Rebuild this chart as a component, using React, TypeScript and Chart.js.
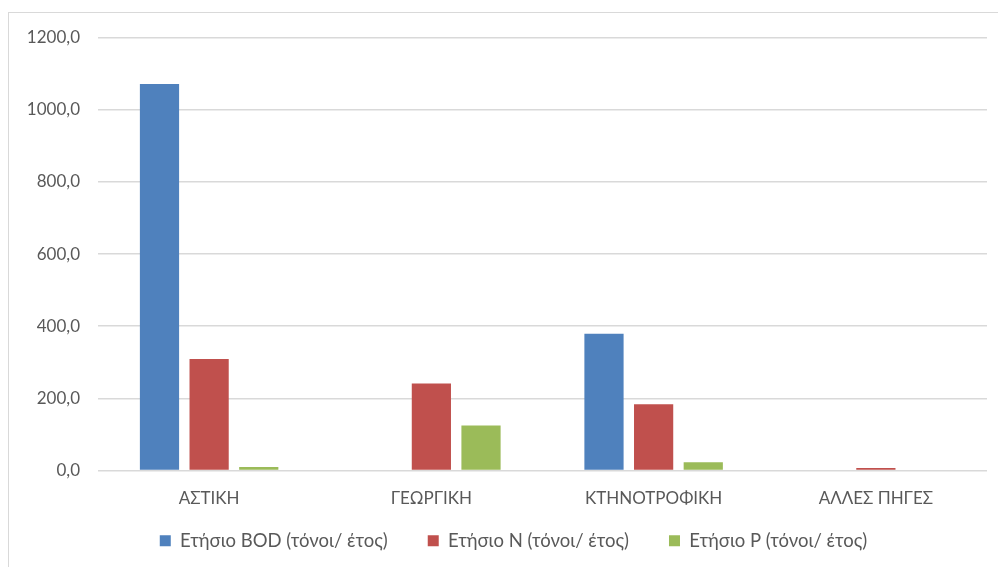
import React, { useEffect, useRef } from "react";
import { Chart, registerables } from "chart.js";

Chart.register(...registerables);

const categories = ["ΑΣΤΙΚΗ", "ΓΕΩΡΓΙΚΗ", "ΚΤΗΝΟΤΡΟΦΙΚΗ", "ΑΛΛΕΣ ΠΗΓΕΣ"];
const bodValues = [1071, 0, 379, 0];
const nValues = [309, 241, 184, 7];
const pValues = [10, 125, 23, 0];
const seriesNames = [
  "Ετήσιο BOD (τόνοι/ έτος)",
  "Ετήσιο N (τόνοι/ έτος)",
  "Ετήσιο P (τόνοι/ έτος)",
];
const yTicks = [0, 200, 400, 600, 800, 1000, 1200];

const FONT = "Lato, 'Open Sans', sans-serif";
const TEXT = "#595959";

// Legend sits closer to the axis than Chart.js's single padding value allows.
const legendShift = {
  id: "legendShift",
  afterLayout(chart: any) {
    const l = chart.legend;
    if (l) {
      l.top = chart.chartArea.bottom + 21;
      l.bottom = chart.height;
      l.height = l.bottom - l.top;
      l.left += 20;
      l.right += 20;
    }
  },
};

export default function App() {
  const ref = useRef<HTMLCanvasElement | null>(null);
  useEffect(() => {
    if (!ref.current) return;
    const chart = new Chart(ref.current, {
      type: "bar",
      data: {
        labels: categories,
        datasets: [
          { label: seriesNames[0], data: bodValues, backgroundColor: "#4F81BD" },
          { label: seriesNames[1], data: nValues, backgroundColor: "#C0504D" },
          { label: seriesNames[2], data: pValues, backgroundColor: "#9BBB59" },
        ],
      },
      plugins: [legendShift],
      options: {
        animation: false,
        responsive: false,
        maintainAspectRatio: false,
        layout: { padding: { left: 0, right: 11, top: 37.5, bottom: 0 } },
        datasets: {
          bar: { barPercentage: 0.79, categoryPercentage: 0.67 },
        },
        plugins: {
          tooltip: { enabled: false },
          legend: {
            position: "bottom",
            maxHeight: 40,
            labels: {
              boxWidth: 11,
              boxHeight: 11,
              padding: 40,
              color: TEXT,
              font: { family: FONT, size: 18.5 },
            },
          },
        },
        scales: {
          x: {
            grid: { display: false, drawTicks: false },
            border: { display: false },
            ticks: {
              color: TEXT,
              font: { family: FONT, size: 17 },
              padding: 18,
            },
          },
          y: {
            min: 0,
            max: 1200,
            afterBuildTicks: (scale: any) => {
              scale.ticks = yTicks.map((v) => ({ value: v }));
            },
            afterFit: (scale: any) => {
              scale.width = 98;
            },
            grid: { color: "#d9d9d9", lineWidth: 1.5, drawTicks: false },
            border: { display: false },
            ticks: {
              color: TEXT,
              font: { family: FONT, size: 17 },
              padding: 18,
              callback: (v: any) => Number(v).toFixed(1).replace(".", ","),
            },
          },
        },
      },
    });
    return () => chart.destroy();
  }, []);

  return (
    <div
      style={{
        position: "fixed",
        left: 0,
        top: 0,
        width: 998,
        height: 567,
        overflow: "hidden",
        background: "#fff",
      }}
    >
      <div
        style={{
          position: "absolute",
          left: 8,
          top: 12,
          width: 1200,
          height: 800,
          border: "1px solid #d9d9d9",
        }}
      />
      <canvas
        ref={ref}
        width={998}
        height={567}
        style={{ position: "absolute", left: 0, top: 0, width: 998, height: 567 }}
      />
    </div>
  );
}
